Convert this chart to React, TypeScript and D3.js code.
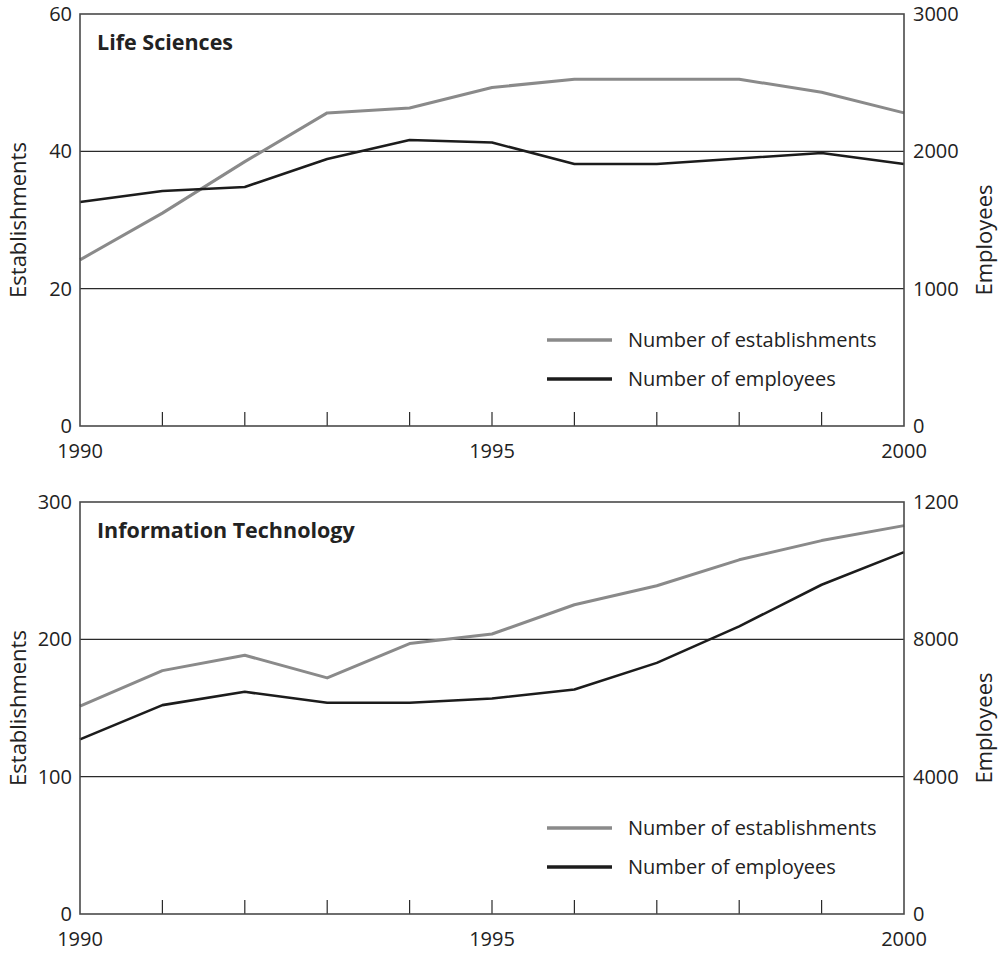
import React from 'react'
import * as d3 from 'd3'

const years = [1990, 1991, 1992, 1993, 1994, 1995, 1996, 1997, 1998, 1999, 2000]
const yearLabels = [1990, 1995, 2000]

const lifeEstablishments = [24.2, 31, 38.5, 45.6, 46.3, 49.3, 50.5, 50.5, 50.5, 48.6, 45.6]
const lifeEmployees = [1631, 1711, 1740, 1944, 2083, 2064, 1908, 1908, 1948, 1988, 1908]
const lifeLeftTicks = [0, 20, 40, 60]
const lifeRightTicks = [0, 1000, 2000, 3000]
const lifeRightLabels = ['0', '1000', '2000', '3000']

const itEstablishments = [151.3, 177.2, 188.4, 171.9, 196.9, 203.9, 225.2, 239.0, 257.9, 271.9, 282.8]
const itEmployees = [5086, 6083, 6471, 6152, 6152, 6277, 6539, 7314, 8378, 9590, 10540]
const itLeftTicks = [0, 100, 200, 300]
const itRightTicks = [0, 4000, 8000, 12000]
const itRightLabels = ['0', '4000', '8000', '1200']

const legendItems = ['Number of establishments', 'Number of employees']

const GRAY = '#8a8a8a'
const DARK = '#1c1c1c'
const FONT = '"Open Sans", "Noto Sans", sans-serif'

const W = 1008
const H = 955
const x0 = 80
const x1 = 904
const panelH = 412

function Panel({ top, title, estab, employees, leftTicks, rightTicks, rightLabels }) {
  const bottom = top + panelH
  const x = d3.scaleLinear().domain([1990, 2000]).range([x0, x1])
  const yL = d3.scaleLinear().domain([0, leftTicks[leftTicks.length - 1]]).range([bottom, top])
  const yR = d3.scaleLinear().domain([0, rightTicks[rightTicks.length - 1]]).range([bottom, top])

  const estabLine = d3.line<number>().x((d, i) => x(years[i])).y(d => yL(d))
  const empLine = d3.line<number>().x((d, i) => x(years[i])).y(d => yR(d))

  const mid = (top + bottom) / 2
  const colors = [GRAY, DARK]

  return (
    <g>
      {/* gridlines */}
      {leftTicks.slice(1, -1).map(t => (
        <line key={t} x1={x0} x2={x1} y1={yL(t)} y2={yL(t)} stroke="#2a2a2a" strokeWidth={1.2} />
      ))}
      {/* inner year ticks */}
      {years.slice(1, -1).map(yr => (
        <line key={yr} x1={x(yr)} x2={x(yr)} y1={bottom} y2={bottom - 14} stroke="#2a2a2a" strokeWidth={1.2} />
      ))}
      <path d={estabLine(estab)} fill="none" stroke={GRAY} strokeWidth={3} strokeLinejoin="round" />
      <path d={empLine(employees)} fill="none" stroke={DARK} strokeWidth={2.6} strokeLinejoin="round" />
      <rect x={x0} y={top} width={x1 - x0} height={panelH} fill="none" stroke="#4a4a4a" strokeWidth={1.6} />

      <text x={97} y={top + 36} fontSize={21.5} fontWeight="bold" fill="#222">{title}</text>

      {/* left ticks */}
      {leftTicks.map(t => (
        <text key={t} x={72} y={yL(t)} dy="0.35em" textAnchor="end" fontSize={20} fill="#222">{t}</text>
      ))}
      {/* right ticks */}
      {rightTicks.map((t, i) => (
        <text key={t} x={913} y={yR(t)} dy="0.35em" textAnchor="start" fontSize={20} fill="#222">{rightLabels[i]}</text>
      ))}
      {/* year labels */}
      {yearLabels.map(yr => (
        <text key={yr} x={x(yr)} y={bottom + 32} textAnchor="middle" fontSize={20} fill="#222">{yr}</text>
      ))}

      <text transform={`translate(26,${mid}) rotate(-90)`} textAnchor="middle" fontSize={22} fill="#222">Establishments</text>
      <text transform={`translate(992,${mid + 20}) rotate(-90)`} textAnchor="middle" fontSize={22} fill="#222">Employees</text>

      {/* legend */}
      {legendItems.map((name, i) => (
        <g key={name} transform={`translate(547,${top + 326 + i * 39})`}>
          <line x1={0} x2={65} y1={0} y2={0} stroke={colors[i]} strokeWidth={3.5} />
          <text x={81} y={0} dy="0.35em" fontSize={20} fill="#222">{name}</text>
        </g>
      ))}
    </g>
  )
}

export default function App() {
  return (
    <svg width={W} height={H} style={{ position: 'absolute', left: 0, top: 0, background: '#fff' }} fontFamily={FONT}>
      <rect width={W} height={H} fill="#fff" />
      <Panel top={14} title="Life Sciences" estab={lifeEstablishments} employees={lifeEmployees}
        leftTicks={lifeLeftTicks} rightTicks={lifeRightTicks} rightLabels={lifeRightLabels} />
      <Panel top={502} title="Information Technology" estab={itEstablishments} employees={itEmployees}
        leftTicks={itLeftTicks} rightTicks={itRightTicks} rightLabels={itRightLabels} />
    </svg>
  )
}
